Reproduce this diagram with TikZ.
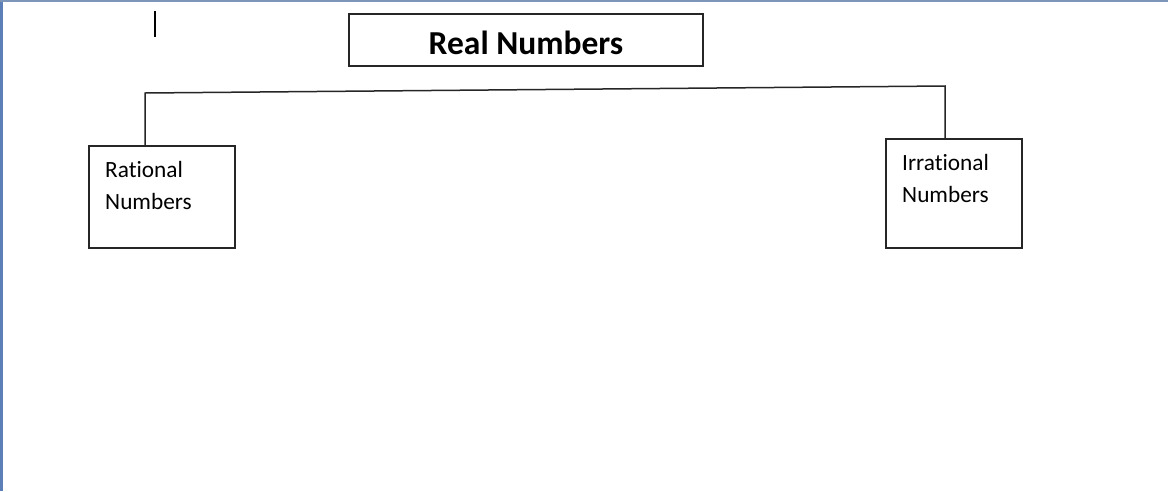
\documentclass[tikz,border=0pt]{standalone}
\usepackage{fontspec}
\setmainfont[Ligatures=NoCommon]{Carlito}
\usetikzlibrary{positioning}
\definecolor{framebar}{RGB}{91,127,182}
\definecolor{topbar}{RGB}{125,149,184}
\tikzset{
	numbox/.style={draw=black!85, line width=1.4pt, inner sep=0pt},
	numtext/.style={inner sep=0pt, align=left, font=\fontsize{23.3}{31.7}\selectfont},
	joinline/.style={line width=1.5pt, color=black!85}
}

\begin{document}
\begin{tikzpicture}[x=1pt, y=-1pt]
		%%%%% START %%%%%
		\useasboundingbox (0, 0) rectangle (1168, 491);
		\fill[white] (0, 0) rectangle (1168, 491);
		
		\fill[framebar] (0, 0) rectangle (3, 491);
		\fill[topbar] (0, 0) rectangle (1168, 2);
		
		\draw[line width=1.5pt] (155, 11) -- (155, 37);
		
		\node[numbox, minimum width=354, minimum height=52, text height=28pt, text depth=0pt, font=\fontsize{33.5}{40}\selectfont\bfseries] (real) at (526, 40) {Real Numbers};
		
		\node[numbox, minimum width=146, minimum height=102] (rational) at (162, 197) {};
		\node[numtext, anchor=north west] (rationaltxt) at (105, 161) {Rational\\Numbers};
		
		\node[numbox, minimum width=136, minimum height=109] (irrational) at (954, 193.5) {};
		\node[numtext, anchor=north west] (irrationaltxt) at (902, 154) {Irrational\\Numbers};
		
		\coordinate (ratjoin) at (145, 93);
		\coordinate (irrjoin) at (945, 86);
		\draw[joinline] (ratjoin |- rational.north) -- (ratjoin) -- (irrjoin) -- (irrjoin |- irrational.north);
		
		%%%%% END %%%%%
	\end{tikzpicture}
\end{document}
